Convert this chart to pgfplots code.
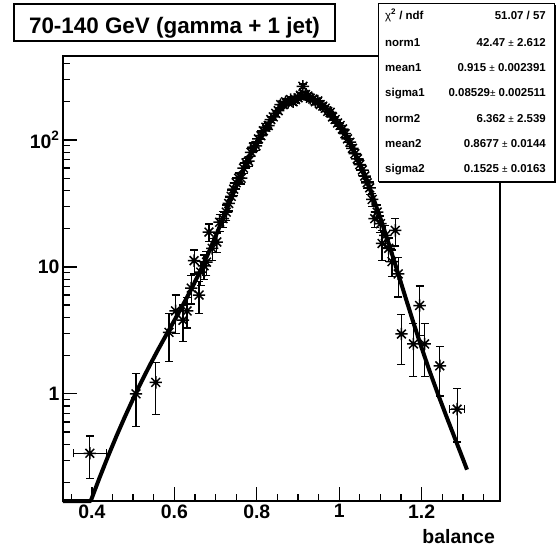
\documentclass[border=0pt]{standalone}
\usepackage{fontspec}
\setmainfont{Liberation Sans}
\usepackage{pgfplots}
\usepackage{pgfplotstable}
\pgfplotsset{compat=1.18}

\pgfdeclareplotmark{rstar}{%
  \pgfpathmoveto{\pgfqpoint{-\pgfplotmarksize}{0pt}}%
  \pgfpathlineto{\pgfqpoint{\pgfplotmarksize}{0pt}}%
  \pgfpathmoveto{\pgfqpoint{0pt}{-\pgfplotmarksize}}%
  \pgfpathlineto{\pgfqpoint{0pt}{\pgfplotmarksize}}%
  \pgfpathmoveto{\pgfqpoint{-0.7071\pgfplotmarksize}{-0.7071\pgfplotmarksize}}%
  \pgfpathlineto{\pgfqpoint{0.7071\pgfplotmarksize}{0.7071\pgfplotmarksize}}%
  \pgfpathmoveto{\pgfqpoint{-0.7071\pgfplotmarksize}{0.7071\pgfplotmarksize}}%
  \pgfpathlineto{\pgfqpoint{0.7071\pgfplotmarksize}{-0.7071\pgfplotmarksize}}%
  \pgfusepathqstroke}

\pgfplotstableread{
x y ey
0.507 1.00 0.45
0.555 1.23 0.54
0.587 3.05 1.26
0.603 4.50 1.50
0.621 3.80 1.20
0.631 4.50 1.20
0.641 6.80 1.70
0.648 11.2 2.40
0.660 6.00 1.70
0.664 9.10 2.00
0.672 10.2 2.20
0.678 10.9 2.30
0.684 18.8 3.00
0.692 14.0 2.70
0.703 15.7 2.80
0.710 22.5 3.40
0.718 24.0 3.50
0.726 27.0 3.70
0.732 31.6 4.00
0.738 36.0 4.30
0.744 41.0 4.60
0.750 46.0 4.90
0.756 50.0 5.00
0.762 50.0 5.00
0.768 60.0 5.50
0.774 66.0 5.80
0.780 68.0 5.90
0.786 80.0 6.40
0.792 88.0 6.70
0.798 90.0 6.80
0.804 102 7.2
0.810 108 7.4
0.816 118 7.7
0.822 126 8.0
0.828 130 8.1
0.834 145 8.5
0.840 152 8.7
0.846 162 9.0
0.852 170 9.2
0.858 190 9.7
0.864 190 9.7
0.870 200 10.0
0.876 198 10.0
0.882 208 10.2
0.888 200 10.0
0.894 208 10.2
0.900 215 10.4
0.906 225 10.6
0.912 265 11.5
0.918 228 10.7
0.924 222 10.5
0.930 213 10.3
0.936 210 10.3
0.942 200 10.0
0.948 203 10.1
0.954 190 9.7
0.960 185 9.6
0.966 178 9.4
0.972 168 9.2
0.978 165 9.1
0.984 152 8.7
0.990 145 8.5
0.996 136 8.2
1.002 130 8.1
1.008 122 7.8
1.014 112 7.5
1.020 102 7.1
1.026 96 6.9
1.032 86 6.5
1.038 78 6.2
1.044 71 5.9
1.050 64 5.6
1.056 58 5.4
1.062 52 5.1
1.068 46 4.8
1.074 42 4.6
1.080 34 4.1
1.086 24 3.5
1.092 27 3.7
1.100 21.9 3.3
1.104 15.3 4.0
1.112 17.7 3.5
1.120 14.0 2.9
1.128 11.0 2.6
1.136 19.4 4.8
1.143 8.8 3.0
1.151 2.96 1.25
1.180 2.47 1.10
1.195 4.96 2.10
1.207 2.47 1.10
1.244 1.66 0.70
}\datamain

\pgfplotstableread{
x y ex ey
0.395 0.34 0.040 0.125
1.286 0.757 0.018 0.34
}\datawide

\pgfplotstableread{
x y
0.33 0.143
0.397 0.143
0.40 0.151
0.42 0.224
0.44 0.326
0.46 0.467
0.48 0.658
0.50 0.911
0.52 1.242
0.54 1.666
0.56 2.208
0.58 2.896
0.60 3.782
0.62 4.951
0.64 6.557
0.66 8.858
0.68 12.27
0.70 17.37
0.72 24.97
0.74 35.93
0.76 51.07
0.78 70.87
0.80 95.13
0.82 122.68
0.84 151.32
0.86 177.98
0.88 199.20
0.90 211.87
0.915 214.51
0.93 210.91
0.94 205.17
0.96 186.70
0.98 161.27
1.00 132.32
1.02 103.22
1.04 76.66
1.06 54.34
1.08 36.89
1.10 24.12
1.12 15.29
1.14 9.50
1.16 5.86
1.18 3.635
1.20 2.297
1.22 1.486
1.24 0.985
1.26 0.664
1.28 0.451
1.30 0.307
1.31 0.2525
}\datafit

\begin{document}
\begin{tikzpicture}
\path[use as bounding box] (0,0) rectangle (559bp,551bp);
\begin{axis}[
  at={(63bp,50bp)}, anchor=south west,
  width=437bp, height=445bp, scale only axis,
  xmin=0.33, xmax=1.39,
  ymode=log, ymin=0.143, ymax=459,
  clip=false,
  axis line style={line width=1.6bp, black},
  tick align=inside, tick pos=left,
  major tick length=14bp, minor tick length=7.5bp,
  tick style={line width=1.3bp, black},
  xtick={0.4,0.6,0.8,1,1.2},
  xticklabels={0.4,0.6,0.8,1,1.2},
  minor xtick={0.35,0.45,0.5,0.55,0.65,0.7,0.75,0.85,0.9,0.95,1.05,1.1,1.15,1.25,1.3,1.35},
  ytick={1,10,100},
  yticklabels={1,10,{10\textsuperscript{2}}},
  minor ytick={0.2,0.3,0.4,0.5,0.6,0.7,0.8,0.9,2,3,4,5,6,7,8,9,20,30,40,50,60,70,80,90,200,300,400},
  tick label style={font=\fontsize{19.5}{21}\selectfont\bfseries},
  xlabel={balance},
  every axis x label/.style={at={(axis description cs:1,0)}, anchor=base east, inner sep=0pt, yshift=-42bp, xshift=-5bp, font=\fontsize{19.5}{21}\selectfont\bfseries},
]
\addplot[only marks, black, mark=rstar, mark size=6.2bp, line width=1.5bp,
  error bars/.cd, y dir=both, y explicit,
  error bar style={line width=1.2bp, black},
  error mark options={rotate=90, black, mark size=4bp, line width=1.2bp}]
  table[x=x, y=y, y error=ey] {\datamain};
\addplot[only marks, black, mark=rstar, mark size=6.2bp, line width=1.5bp,
  error bars/.cd, y dir=both, y explicit, x dir=both, x explicit,
  error bar style={line width=1.2bp, black},
  error mark options={rotate=90, black, mark size=4bp, line width=1.2bp}]
  table[x=x, y=y, x error=ex, y error=ey] {\datawide};
\addplot[black, no marks, line width=4bp, line join=round] table[x=x, y=y] {\datafit};
\end{axis}
% title box
\draw[fill=white, line width=1.2bp] (14bp,510bp) rectangle (335bp,547bp);
\draw[line width=1.6bp] (15bp,509.5bp) -- (335.6bp,509.5bp) -- (335.6bp,546bp);
\node[anchor=base, inner sep=0pt] at (174.5bp,517.7bp) {\fontsize{22.5}{24}\selectfont\bfseries 70-140 GeV (gamma + 1 jet)};
% stats box
\draw[fill=white, line width=1bp] (378bp,369bp) rectangle (554bp,547bp);
\draw[line width=1.8bp] (379bp,368.5bp) -- (554.6bp,368.5bp) -- (554.6bp,546bp);
\begin{scope}[every node/.style={inner sep=0pt, font=\fontsize{11.5}{13}\selectfont\bfseries}]
\node[anchor=base west] at (385bp,531.9bp) {{\mdseries χ}\textsuperscript{2} / ndf};
\node[anchor=base east] at (546bp,531.9bp) {51.07 / 57};
\node[anchor=base west] at (385bp,504.2bp) {norm1};
\node[anchor=base east] at (546bp,504.2bp) {42.47 {\mdseries\fontsize{10}{11}\selectfont ±} 2.612};
\node[anchor=base west] at (385bp,479.6bp) {mean1};
\node[anchor=base east] at (546bp,479.6bp) {0.915 {\mdseries\fontsize{10}{11}\selectfont ±} 0.002391};
\node[anchor=base west] at (385bp,454.2bp) {sigma1};
\node[anchor=base east] at (546bp,454.2bp) {0.08529{\mdseries\fontsize{10}{11}\selectfont ±} 0.002511};
\node[anchor=base west] at (385bp,428.6bp) {norm2};
\node[anchor=base east] at (546bp,428.6bp) {6.362 {\mdseries\fontsize{10}{11}\selectfont ±} 2.539};
\node[anchor=base west] at (385bp,403.6bp) {mean2};
\node[anchor=base east] at (546bp,403.6bp) {0.8677 {\mdseries\fontsize{10}{11}\selectfont ±} 0.0144};
\node[anchor=base west] at (385bp,378.6bp) {sigma2};
\node[anchor=base east] at (546bp,378.6bp) {0.1525 {\mdseries\fontsize{10}{11}\selectfont ±} 0.0163};
\end{scope}
\end{tikzpicture}
\end{document}
